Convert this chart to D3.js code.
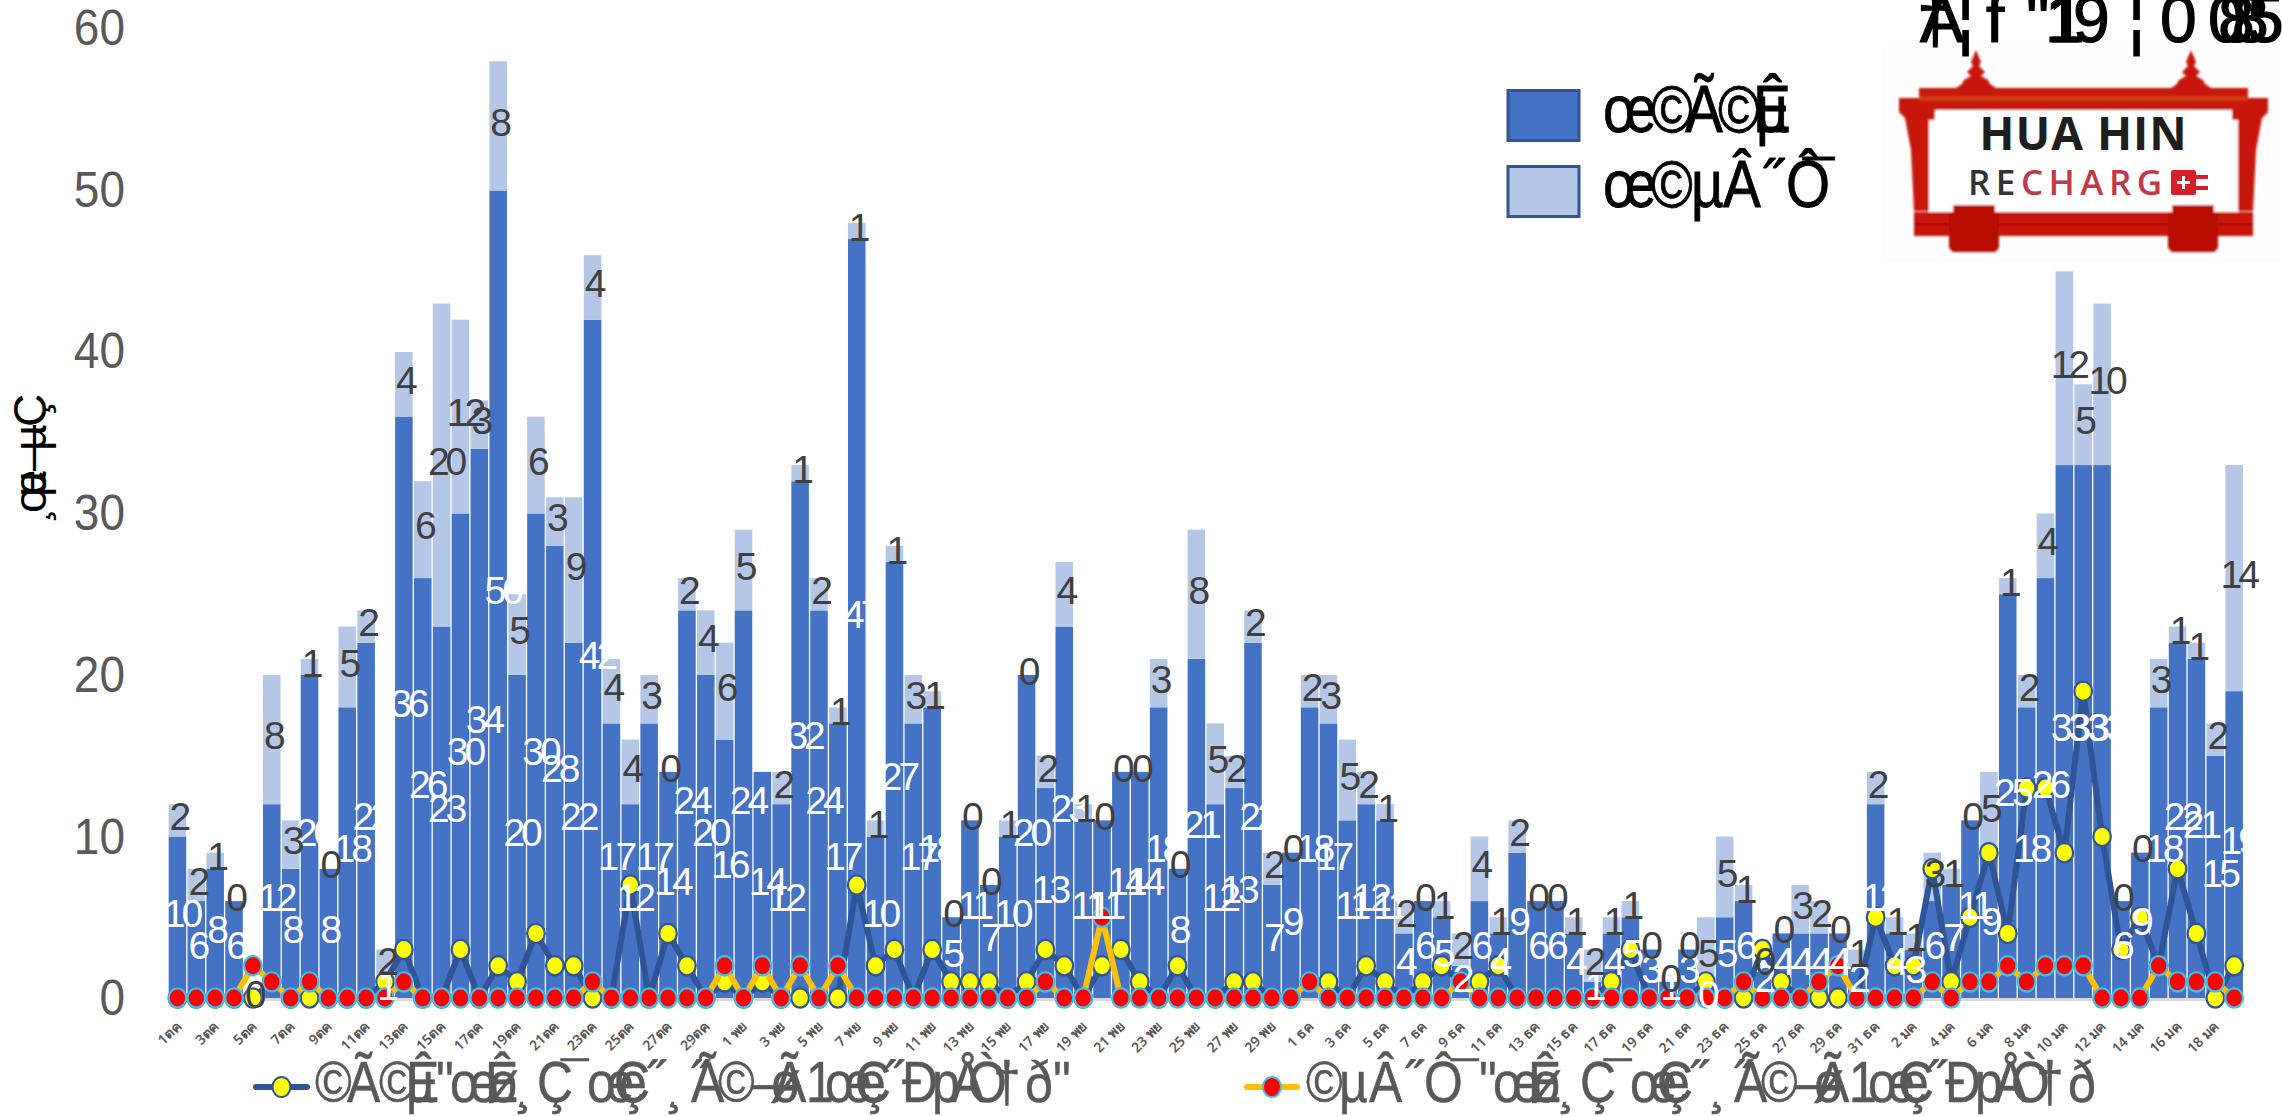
<!DOCTYPE html>
<html><head><meta charset="utf-8">
<script src="https://cdn.jsdelivr.net/npm/d3@7/dist/d3.min.js"></script>
<style>html,body{margin:0;padding:0;background:#fff;overflow:hidden}svg{display:block}text{font-family:"Liberation Sans",Arial,sans-serif}</style>
</head><body><div id="c"></div>
<script>
const tickLabels=["1ตค","3ตค","5ตค","7ตค","9ตค","11ตค","13ตค","15ตค","17ตค","19ตค","21ตค","23ตค","25ตค","27ตค","29ตค",
"1 พย","3 พย","5 พย","7 พย","9 พย","11 พย","13 พย","15 พย","17 พย","19 พย","21 พย","23 พย","25 พย","27 พย","29 พย",
"1 ธค","3 ธค","5 ธค","7 ธค","9 ธค","11 ธค","13 ธค","15 ธค","17 ธค","19 ธค","21 ธค","23 ธค","25 ธค","27 ธค","29 ธค","31 ธค",
"2 มค","4 มค","6 มค","8 มค","10 มค","12 มค","14 มค","16 มค","18 มค"];
const seriesA=[10,6,8,6,0,12,8,20,8,18,22,1,36,26,23,30,34,50,20,30,28,22,42,17,12,17,14,24,20,16,
24,14,12,32,24,17,47,10,27,17,18,5,11,7,10,20,13,23,11,11,14,14,18,8,21,12,13,22,7,9,
18,17,11,12,11,4,6,5,2,6,4,9,6,6,4,1,4,5,3,1,3,0,5,6,2,4,4,4,4,2,12,
4,3,6,7,11,9,25,18,26,33,33,33,6,9,18,22,21,15,19];
const seriesB=[2,2,1,0,0,8,3,1,0,5,2,2,4,6,20,12,3,8,5,6,3,9,4,4,4,3,0,2,4,6,
5,null,2,1,2,1,1,1,1,3,1,0,0,0,1,0,2,4,1,0,0,0,3,0,8,5,2,2,2,0,
2,3,5,2,1,2,0,1,2,4,1,2,0,0,1,2,1,1,0,0,0,5,5,1,0,0,3,2,0,1,2,
1,1,3,1,0,5,1,2,4,12,5,10,0,0,3,1,1,2,14];
const lineYellow=[0,0,0,0,0,1,0,0,0,0,0,1,3,0,0,3,0,2,1,4,2,2,0,0,7,0,4,2,0,1,
0,1,0,0,0,0,7,2,3,0,3,1,1,1,0,1,3,2,0,2,3,1,0,2,0,0,1,1,0,0,
1,1,0,2,1,0,1,2,1,1,2,0,0,0,0,0,1,3,0,0,0,1,0,0,3,1,0,0,0,0,5,
2,2,8,1,5,9,4,13,13,9,19,10,3,5,2,8,4,0,2];
const lineRed=[0,0,0,0,2,1,0,1,0,0,0,0,1,0,0,0,0,0,0,0,0,0,1,0,0,0,0,0,0,2,
0,2,0,2,0,2,0,0,0,0,0,0,0,0,0,0,1,0,0,5,0,0,0,0,0,0,0,0,0,0,
1,0,0,0,0,0,0,0,1,0,0,0,0,0,0,0,0,0,0,0,0,0,0,1,0,0,0,1,2,0,0,
0,0,1,0,1,1,2,1,2,2,2,0,0,0,2,1,1,1,0];
const yTicks=[0,10,20,30,40,50,60];

const legendBarA=["œ","©","Ã","©","Ê","µ"];
const legendBarB=["œ","©","µ","Â","˝","Ô","¯"];
const suffixChars=["\"","œ","Ê","ø","¸","Ç","¯","œ","Ç","e","˝","¸","˝","Ã","©","—","Ã","ø","1","œ","Ç","e","˝","Ð","p","Å","Ò","†","ð"];
const legendLineA=["©","Ã","©","Ê","µ"].concat(suffixChars,["\""]);
const legendLineB=["©","µ","Â","˝","Ô","¯"].concat(suffixChars);
const titleChars=["†","A","¦","f","\"","1","1","9","¦","0","0","8","8","5"];
const yTitleChars=["¸","œ","µ","—","µ","Ç"];

// layout constants
const W=2282,H=1116,X0=168,X1=2243.6,Y0=998,Y60=29,SX=0.86;
const svg=d3.select("#c").append("svg").attr("width",W).attr("height",H).attr("viewBox",`0 0 ${W} ${H}`);
const idx=d3.range(seriesA.length);
const x=d3.scaleBand().domain(idx).range([X0,X1]).paddingInner(0.07).paddingOuter(0.035);
const y=d3.scaleLinear().domain([0,60]).range([Y0,Y60]);
const labelY=d3.scaleLinear().domain([0,60]).range([998,27.5]);
const cx=i=>x(i)+x.bandwidth()/2;

// axes
const tickIdx=[...d3.range(0,60,2),...d3.range(60,92,2),...d3.range(92,110,2)];
const ax=d3.axisBottom(x).tickValues(tickIdx).tickFormat(i=>tickLabels[tickIdx.indexOf(i)]).tickSize(0).tickPadding(0);
const gx=svg.append("g").attr("transform",`translate(0,${Y0+1})`).call(ax);
gx.select(".domain").attr("stroke","#D9D9D9").attr("stroke-width",3);
gx.selectAll("text").attr("transform","translate(1,25) rotate(-45)").attr("text-anchor","end").attr("dy","0.35em").attr("y",0)
  .attr("fill","#595959").style("font-size","14px").style("font-family","'Noto Sans','DejaVu Sans','Liberation Sans',sans-serif").style("font-weight","600");
const gy=svg.append("g").attr("transform",`translate(${X0},0)`).call(d3.axisLeft(y).tickValues(yTicks).tickSize(0).tickPadding(43));
gy.select(".domain").remove();
gy.selectAll(".tick").attr("transform",d=>`translate(0,${labelY(d)})`);
gy.selectAll("text").attr("fill","#595959").style("font-size","50px").style("font-family","'Liberation Sans',sans-serif")
  .attr("dy","0.345em").attr("transform","translate(-43,0) scale(0.92,1)").attr("x",0);

// logo
const logo=svg.append("g");
logo.append("rect").attr("x",1883).attr("y",46).attr("width",399).attr("height",216).attr("fill","#FDFDFD");
const f=svg.append("defs").append("filter").attr("id","soft");f.append("feGaussianBlur").attr("stdDeviation",0.8);
const lg=logo.append("g").attr("filter","url(#soft)");
const red="#C8140A",dark="#B80A06";
[1976,2191].forEach(c=>{
 lg.append("path").attr("fill",red).attr("d",`M${c},50 L${c+5},62 L${c+3},66 L${c+9},72 L${c+5},76 L${c+12},80 L${c+14},84 L${c+20},88 L${c-20},88 L${c-14},84 L${c-12},80 L${c-5},76 L${c-9},72 L${c-3},66 L${c-5},62 Z`);
});
lg.append("path").attr("fill",red).attr("d","M1919,88 H2248 V98 H2268 V112 L2262,118 L2256,150 L2253,211 H1914 L1911,150 L1905,118 L1899,112 V98 H1919 Z");
lg.append("rect").attr("x",1919).attr("y",96).attr("width",329).attr("height",5).attr("fill","#D23A12");
lg.append("path").attr("fill","#FFFFFF").attr("d","M1935,110 H2232 V120 H2238 V211 H1929 V120 H1935 Z");
lg.append("rect").attr("x",1929).attr("y",205).attr("width",309).attr("height",8).attr("fill","#FFFFFF");
lg.append("rect").attr("x",1914).attr("y",212).attr("width",339).attr("height",24).attr("fill",red);
lg.append("rect").attr("x",1914).attr("y",223).attr("width",339).attr("height",3).attr("fill",dark);
[1949,2168].forEach(c=>{lg.append("path").attr("fill",dark).attr("d",`M${c+4},205 H${c+46} V212 H${c+50} V248 L${c+46},252 H${c+4} L${c},248 V212 H${c+4} Z`);});
logo.append("text").attr("x",2083.5).attr("y",150).attr("text-anchor","middle").attr("fill","#1E1E1E").style("font-size","46px").style("font-family","'Open Sans',sans-serif").style("font-weight","700").attr("letter-spacing",1).text("HUA HIN");
const rc=logo.append("text").attr("x",1968).attr("y",195).attr("fill","#333").style("font-size","35px").style("font-family","'Open Sans',sans-serif").style("font-weight","600").attr("letter-spacing",5.5);
rc.append("tspan").text("RE");
rc.append("tspan").attr("fill","#C23A4A").text("CHARG");
logo.append("rect").attr("x",2171).attr("y",170).attr("width",25).attr("height",25).attr("rx",2).attr("fill","#D81E28");
logo.append("path").attr("stroke","#D81E28").attr("stroke-width",4).attr("d","M2196,177 H2208 M2196,188 H2208");
logo.append("path").attr("stroke","#fff").attr("stroke-width",3).attr("d","M2183.5,176 V189 M2177,182.5 H2190");

// stacked bars
const gBars=svg.append("g");
gBars.selectAll("rect.a").data(idx).join("rect").attr("class","a")
 .attr("x",i=>x(i)).attr("width",x.bandwidth()).attr("y",i=>y(seriesA[i])).attr("height",i=>y(0)-y(seriesA[i])).attr("fill","#4472C4");
gBars.selectAll("rect.b").data(idx).join("rect").attr("class","b")
 .attr("x",i=>x(i)).attr("width",x.bandwidth()).attr("y",i=>y(seriesA[i]+(seriesB[i]||0))).attr("height",i=>y(seriesA[i])-y(seriesA[i]+(seriesB[i]||0))).attr("fill","#B4C7E7");

// lines
const ln=arr=>d3.line().x(i=>cx(i)).y(i=>y(arr[i]))(idx);
svg.append("path").attr("d",ln(lineYellow)).attr("fill","none").attr("stroke","#2F5597").attr("stroke-width",6).attr("stroke-linejoin","round");
svg.append("g").selectAll("ellipse").data(idx).join("ellipse").attr("cx",cx).attr("cy",i=>y(lineYellow[i])).attr("rx",8.8).attr("ry",9.6).attr("fill","#FFFF00").attr("stroke","#2F5597").attr("stroke-width",2.2);
svg.append("path").attr("d",ln(lineRed)).attr("fill","none").attr("stroke","#FFC000").attr("stroke-width",6).attr("stroke-linejoin","round");
svg.append("g").selectAll("ellipse").data(idx).join("ellipse").attr("cx",cx).attr("cy",i=>y(lineRed[i])).attr("rx",8.8).attr("ry",9.6).attr("fill","#FF0000").attr("stroke","#41BDEB").attr("stroke-width",2.2);

// data labels
const lab=(val,base,col)=>svg.append("g").selectAll("text").data(idx.filter(i=>val[i]!==null)).join("text")
 .attr("x",i=>cx(i)+(val[i]>=10?4:3)).attr("y",i=>y(base(i)+val[i]/2)-4).attr("dy","0.35em").attr("text-anchor","middle").attr("letter-spacing",i=>val[i]>=10?-4:0)
 .attr("fill",col).style("font-size","39px").text(i=>val[i]);
lab(seriesA,()=>0,"#FFFFFF");
lab(seriesB,i=>seriesA[i],"#404040");

// bar legend
[[89,"#4472C4",legendBarA,[0,48,82,115,150,153],132],[165,"#B4C7E7",legendBarB,[0,48,88,120,160,183,200],207]].forEach(([ty,col,ch,off,base])=>{
 svg.append("rect").attr("x",1508).attr("y",ty+1.5).attr("width",71).attr("height",50).attr("fill",col).attr("stroke","#2F5597").attr("stroke-width",3);
 svg.append("text").attr("transform",`translate(1603,${base}) scale(${SX},1)`).attr("x",off.map(o=>o/SX).join(" ")).attr("y",0).attr("fill","#000").attr("stroke","#000").attr("stroke-width",0.8).style("font-size","66px").text(ch.join(""));
});

// line legend
const suffixOff=[173,187,222,225,252,274,298,324,351,356,384,403,428,428,455,488,510,507,543,562,592,595,622,639,669,688,705,730,762];
const offLA=[0,32,64,91,91].concat(suffixOff.map(o=>o-52),[738]);
const offLB=[0,33,63,99,118,145].concat(suffixOff);
[[253,310,"#2F5597","#FFFF00","#2F5597",legendLineA,offLA,315],[1244,1300,"#FFC000","#FF0000","#41BDEB",legendLineB,offLB,1306]].forEach(([a,b,lc,mf,ms,ch,off,sx])=>{
 svg.append("line").attr("x1",a+3).attr("x2",b-3).attr("y1",1087).attr("y2",1087).attr("stroke",lc).attr("stroke-width",6).attr("stroke-linecap","round");
 svg.append("ellipse").attr("cx",(a+b)/2).attr("cy",1087).attr("rx",9).attr("ry",10).attr("fill",mf).attr("stroke",ms).attr("stroke-width",2);
 svg.append("text").attr("transform",`translate(${sx},1102) scale(${SX},1)`).attr("x",off.map(o=>o/SX).join(" ")).attr("y",0).attr("fill","#595959").attr("stroke","#595959").attr("stroke-width",0.5).style("font-size","58px").text(ch.join(""));
});

// title
const titleX=[1917,1920,1957,1986,2026,2045,2048,2073,2128,2160,2208,2218,2232,2247];
svg.append("text").attr("x",titleX.join(" ")).attr("y",42).attr("fill","#000").attr("stroke","#000").attr("stroke-width",1.2).style("font-size","66px").text(titleChars.join(""));

// y title
svg.append("text").attr("transform","translate(46,523) rotate(-90)").attr("x",[0,10,26,52,72,96].join(" ")).attr("y",0).attr("fill","#000").style("font-size","46px").text(yTitleChars.join(""));
</script></body></html>
